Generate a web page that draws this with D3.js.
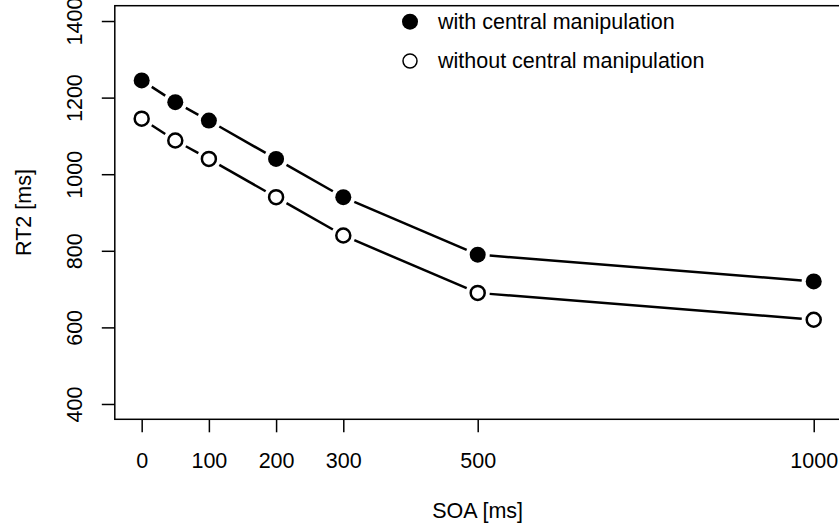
<!DOCTYPE html>
<html>
<head>
<meta charset="utf-8">
<script src="https://cdn.jsdelivr.net/npm/d3@7"></script>
<style>
  body { margin: 0; background: #fff; }
  svg text { font-family: "Liberation Sans", Arial, Helvetica, sans-serif; font-size: 21.5px; fill: #000; }
</style>
</head>
<body>
<div id="graphic"></div>
<script>
// SOA conditions and mean RT2 per condition
const soa = [0, 50, 100, 200, 300, 500, 1000];
const withCentral = [1245, 1188, 1140, 1040, 940, 790, 720];
const withoutCentral = [1145, 1088, 1040, 940, 840, 690, 620];

const xTicks = [0, 100, 200, 300, 500, 1000];
const yTicks = [400, 600, 800, 1000, 1200, 1400];
const legendLabels = ["with central manipulation", "without central manipulation"];

const outerWidth = 839, outerHeight = 531;

// plot region (R style, axes extended 4%)
const box = { left: 114.8, right: 840.6, top: 5.7, bottom: 419.3 };

const x = d3.scaleLinear()
  .domain([-40, 1040])
  .range([box.left, box.right]);

const y = d3.scaleLinear()
  .domain([360, 1440])
  .range([box.bottom, box.top]);

const svg = d3.select("#graphic")
  .append("svg")
  .attr("width", outerWidth)
  .attr("height", outerHeight);

// x axis
const xAxis = svg.append("g")
  .attr("transform", `translate(0, ${box.bottom})`)
  .call(d3.axisBottom(x).tickValues(xTicks).tickSize(13).tickFormat(d3.format("d")));
xAxis.select(".domain").remove();
xAxis.selectAll(".tick line").attr("stroke", "#000").attr("stroke-width", 1.5);
xAxis.selectAll(".tick text")
  .attr("y", 41)
  .attr("dy", "0.35em")
  .style("font-size", null);

// y axis
const yAxis = svg.append("g")
  .attr("transform", `translate(${box.left}, 0)`)
  .call(d3.axisLeft(y).tickValues(yTicks).tickSize(13).tickFormat(d3.format("d")));
yAxis.select(".domain").remove();
yAxis.selectAll(".tick line").attr("stroke", "#000").attr("stroke-width", 1.5);
yAxis.selectAll(".tick text")
  .attr("x", 0)
  .attr("dy", null)
  .attr("text-anchor", "middle")
  .attr("dominant-baseline", "central")
  .attr("transform", "translate(-40, 0) rotate(-90)");
svg.selectAll(".tick text").attr("font-size", null).attr("font-family", null);

// box round the plot
svg.append("rect")
  .attr("x", box.left)
  .attr("y", box.top)
  .attr("width", box.right - box.left)
  .attr("height", box.bottom - box.top)
  .attr("fill", "none")
  .attr("stroke", "#000")
  .attr("stroke-width", 1.5);

// axis titles
svg.append("text")
  .attr("x", x(500))
  .attr("y", 511)
  .attr("text-anchor", "middle")
  .attr("dominant-baseline", "central")
  .text("SOA [ms]");

svg.append("text")
  .attr("transform", `translate(24, ${(box.top + box.bottom) / 2}) rotate(-90)`)
  .attr("text-anchor", "middle")
  .attr("dominant-baseline", "central")
  .text("RT2 [ms]");

// type="b": segments with gaps around the points
const gap = 12;
function drawSeries(values, filled) {
  const pts = soa.map((s, i) => [x(s), y(values[i])]);
  const g = svg.append("g");
  for (let i = 0; i < pts.length - 1; i++) {
    const [x0, y0] = pts[i], [x1, y1] = pts[i + 1];
    const len = Math.hypot(x1 - x0, y1 - y0);
    if (len <= 2 * gap) continue;
    const ux = (x1 - x0) / len, uy = (y1 - y0) / len;
    g.append("line")
      .attr("x1", x0 + ux * gap).attr("y1", y0 + uy * gap)
      .attr("x2", x1 - ux * gap).attr("y2", y1 - uy * gap)
      .attr("stroke", "#000")
      .attr("stroke-width", 2.5);
  }
  g.selectAll("circle")
    .data(pts)
    .enter()
    .append("circle")
    .attr("cx", d => d[0])
    .attr("cy", d => d[1])
    .attr("r", filled ? 8 : 7)
    .attr("fill", filled ? "#000" : "#fff")
    .attr("stroke", "#000")
    .attr("stroke-width", filled ? 0 : 2.5);
}

drawSeries(withCentral, true);
drawSeries(withoutCentral, false);

// legend, no frame
const legend = svg.append("g");
legendLabels.forEach(function(label, i) {
  const ly = 21.7 + i * 39.3;
  legend.append("circle")
    .attr("cx", 410)
    .attr("cy", ly)
    .attr("r", i === 0 ? 8 : 7)
    .attr("fill", i === 0 ? "#000" : "#fff")
    .attr("stroke", "#000")
    .attr("stroke-width", i === 0 ? 0 : 1.5);
  legend.append("text")
    .attr("x", 438)
    .attr("y", ly)
    .attr("dominant-baseline", "central")
    .text(label);
});
</script>
</body>
</html>
